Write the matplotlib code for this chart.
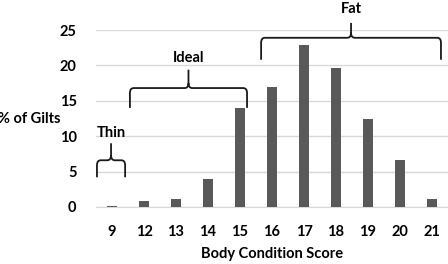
import matplotlib
matplotlib.use("Agg")
import matplotlib.pyplot as plt
from matplotlib.path import Path
from matplotlib.patches import PathPatch

categories = ["9", "12", "13", "14", "15", "16", "17", "18", "19", "20", "21"]
values = [0.1, 0.9, 1.1, 3.9, 14.0, 16.9, 22.9, 19.6, 12.5, 6.6, 1.1]
yticks = [0, 5, 10, 15, 20, 25]
groups = ["Thin", "Ideal", "Fat"]
group_start = ["9", "12", "16"]
group_end = ["9", "15", "21"]

plt.rcParams['font.family'] = ['Lato', 'DejaVu Sans']
fig = plt.figure(figsize=(4.48, 2.64), dpi=100)
ax = fig.add_axes([96/448, 57/264, 352/448, 177/264])

x = list(range(len(categories)))
ax.bar(x, values, width=0.31, color="#595959", zorder=3)
ax.set_xlim(-0.5, len(categories) - 0.5)
ax.set_ylim(0, 25)
ax.set_yticks(yticks)
ax.set_xticks(x)
ax.set_xticklabels(categories)
ax.grid(axis="y", color="#d9d9d9", linewidth=1.0, zorder=0)
for s in ["top", "right", "left"]:
    ax.spines[s].set_visible(False)
ax.spines["bottom"].set_color("#d9d9d9")
ax.tick_params(axis="both", length=0, labelsize=10.5)
ax.tick_params(axis="y", pad=14)
ax.tick_params(axis="x", pad=13)
for lab in ax.get_xticklabels() + ax.get_yticklabels():
    lab.set_fontweight("bold")
ax.set_xlabel("Body Condition Score", fontsize=10.5, fontweight="bold", labelpad=6)
fig.text(61/448, 1 - 119/264, "% of Gilts", fontsize=10.5,
         fontweight="bold", ha="right", va="center")

# brace geometry (start offset, end offset, bottom, horizontal, tip, label y)
geo = [(-0.47, 0.41, 4.2, 6.6, 9.0, 10.5),
       (-0.44, 0.22, 14.0, 16.8, 19.4, 21.0),
       (-0.34, 0.28, 20.8, 23.9, 26.0, 28.0)]

def brace(ax, x0, x1, yb, yh, yt):
    rx, ry = 0.12, 0.7
    xm = (x0 + x1) / 2
    verts = [(x0, yb), (x0, yh - ry), (x0, yh), (x0 + rx, yh),
             (xm - rx, yh), (xm, yh), (xm, yh + ry), (xm, yt),
             (xm, yh + ry), (xm, yh), (xm + rx, yh),
             (x1 - rx, yh), (x1, yh), (x1, yh - ry), (x1, yb)]
    codes = [Path.MOVETO, Path.LINETO, Path.CURVE3, Path.CURVE3,
             Path.LINETO, Path.CURVE3, Path.CURVE3, Path.LINETO,
             Path.MOVETO, Path.CURVE3, Path.CURVE3,
             Path.LINETO, Path.CURVE3, Path.CURVE3, Path.LINETO]
    p = PathPatch(Path(verts, codes), fill=False, edgecolor="#1a1a1a",
                  linewidth=1.3, clip_on=False, zorder=4)
    ax.add_patch(p)
    return xm

for name, s, e, g in zip(groups, group_start, group_end, geo):
    i0 = categories.index(s) + g[0]
    i1 = categories.index(e) + g[1]
    xm = brace(ax, i0, i1, g[2], g[3], g[4])
    ax.text(xm, g[5], name, ha="center", va="center", fontsize=10.5,
            fontweight="bold", clip_on=False)

fig.savefig("out.png", dpi=100)
